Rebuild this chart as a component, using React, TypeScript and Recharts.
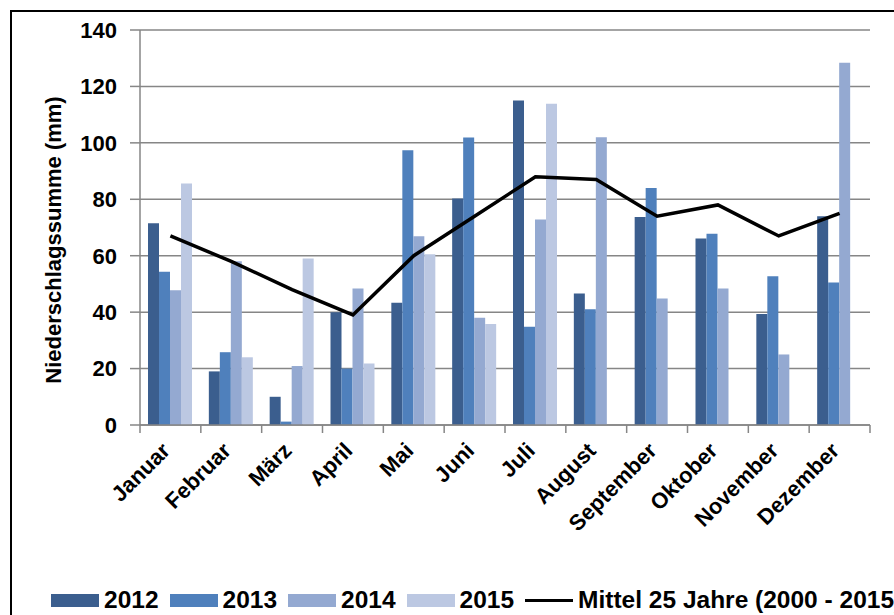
import React from 'react';
import { ComposedChart, Bar, Line, XAxis, YAxis, CartesianGrid, Legend } from 'recharts';

const months = ['Januar', 'Februar', 'März', 'April', 'Mai', 'Juni', 'Juli', 'August', 'September', 'Oktober', 'November', 'Dezember'];
const y2012 = [71.5, 19, 10, 40, 43.3, 80.3, 115, 46.6, 73.7, 66.1, 39.3, 74];
const y2013 = [54.3, 25.8, 1.2, 20, 97.4, 101.9, 34.8, 41, 84, 67.8, 52.7, 50.5];
const y2014 = [47.8, 58, 20.9, 48.4, 66.9, 38, 72.8, 102, 44.8, 48.4, 25, 128.4];
const y2015: (number | null)[] = [85.6, 24, 59, 21.8, 60.5, 35.8, 113.9, null, null, null, null, null];
const mittel = [67, 58, 48, 39, 60, 74, 88, 87, 74, 78, 67, 75];
const yTicks = [0, 20, 40, 60, 80, 100, 120, 140];

const seriesNames = ['2012', '2013', '2014', '2015'];
const lineName = 'Mittel 25 Jahre (2000 - 2015)';
const colors = ['#3B5E8E', '#4F80BC', '#94A9D1', '#BCC8E2'];

const data = months.map((m, i) => ({
  month: m,
  s2012: y2012[i],
  s2013: y2013[i],
  s2014: y2014[i],
  s2015: y2015[i],
  mittel: mittel[i],
}));

const FONT = '"Liberation Sans", Arial, sans-serif';
const AXIS = '#868686';

const XTick = (props: any) => {
  const { x, y, payload, index, visibleTicksCount, width } = props;
  const n = visibleTicksCount || months.length;
  const band = width ? width / n : 60.83;
  return (
    <g>
      <line x1={x - band / 2} x2={x - band / 2} y1={y} y2={y + 8} stroke={AXIS} strokeWidth={1.5} />
      {index === n - 1 && (
        <line x1={x + band / 2} x2={x + band / 2} y1={y} y2={y + 8} stroke={AXIS} strokeWidth={1.5} />
      )}
      <text
        transform={`translate(${x + 1},${y + 27}) rotate(-45)`}
        textAnchor="end"
        fontFamily={FONT}
        fontWeight="bold"
        fontSize={22}
        fill="#000"
      >
        {payload.value}
      </text>
    </g>
  );
};

const YTitle = () => (
  <text
    transform="translate(53,240) rotate(-90)"
    textAnchor="middle"
    dominantBaseline="central"
    fontFamily={FONT}
    fontWeight="bold"
    fontSize={22}
    fill="#000"
  >
    Niederschlagssumme (mm)
  </text>
);

const LegendContent = () => {
  const items = [
    ...seriesNames.map((n, i) => ({ name: n, color: colors[i], type: 'rect' })),
    { name: lineName, color: '#000', type: 'line' },
  ];
  return (
    <div style={{ display: 'flex', alignItems: 'center', whiteSpace: 'nowrap', fontFamily: FONT, fontWeight: 'bold', fontSize: 24.5 }}>
      {items.map((it) => (
        <div key={it.name} style={{ display: 'flex', alignItems: 'center', marginRight: 11 }}>
          {it.type === 'rect' ? (
            <div style={{ width: 48, height: 13, background: it.color, marginRight: 5 }} />
          ) : (
            <div style={{ width: 48, height: 3, background: it.color, marginRight: 5 }} />
          )}
          <span>{it.name}</span>
        </div>
      ))}
    </div>
  );
};

export default function App() {
  return (
    <div style={{ position: 'absolute', left: 0, top: 0, width: 894, height: 615, overflow: 'hidden', background: '#fff' }}>
      <div style={{ position: 'absolute', left: 10, top: 10, width: 1000, height: 1000, borderLeft: '2px solid #000', borderTop: '2px solid #000' }} />
      <ComposedChart
        width={894}
        height={615}
        data={data}
        margin={{ top: 30, right: 24, bottom: 0, left: 0 }}
        barGap={0}
        barSize={11}
      >
        <CartesianGrid vertical={false} stroke={AXIS} strokeWidth={1.5} />
        <XAxis
          dataKey="month"
          tickLine={false}
          tickSize={0}
          tickMargin={0}
          axisLine={{ stroke: AXIS, strokeWidth: 1.5 }}
          tick={<XTick />}
          interval={0}
          height={160}
        />
        <YAxis
          width={140}
          domain={[0, 140]}
          ticks={yTicks}
          interval={0}
          tickSize={10}
          tickMargin={13}
          axisLine={{ stroke: AXIS, strokeWidth: 1.5 }}
          tickLine={{ stroke: AXIS, strokeWidth: 1.5 }}
          tick={{ fontFamily: FONT, fontWeight: 'bold', fontSize: 22, fill: '#000' }}
          label={{ content: () => <YTitle /> }}
        />
        <Bar dataKey="s2012" name={seriesNames[0]} fill={colors[0]} isAnimationActive={false} />
        <Bar dataKey="s2013" name={seriesNames[1]} fill={colors[1]} isAnimationActive={false} />
        <Bar dataKey="s2014" name={seriesNames[2]} fill={colors[2]} isAnimationActive={false} />
        <Bar dataKey="s2015" name={seriesNames[3]} fill={colors[3]} isAnimationActive={false} />
        <Line
          dataKey="mittel"
          name={lineName}
          type="linear"
          stroke="#000"
          strokeWidth={3.5}
          dot={false}
          activeDot={false}
          isAnimationActive={false}
        />
        <Legend
          content={<LegendContent />}
          wrapperStyle={{ position: 'absolute', left: 51, top: 586, width: 1100, height: 30 }}
        />
      </ComposedChart>
    </div>
  );
}
